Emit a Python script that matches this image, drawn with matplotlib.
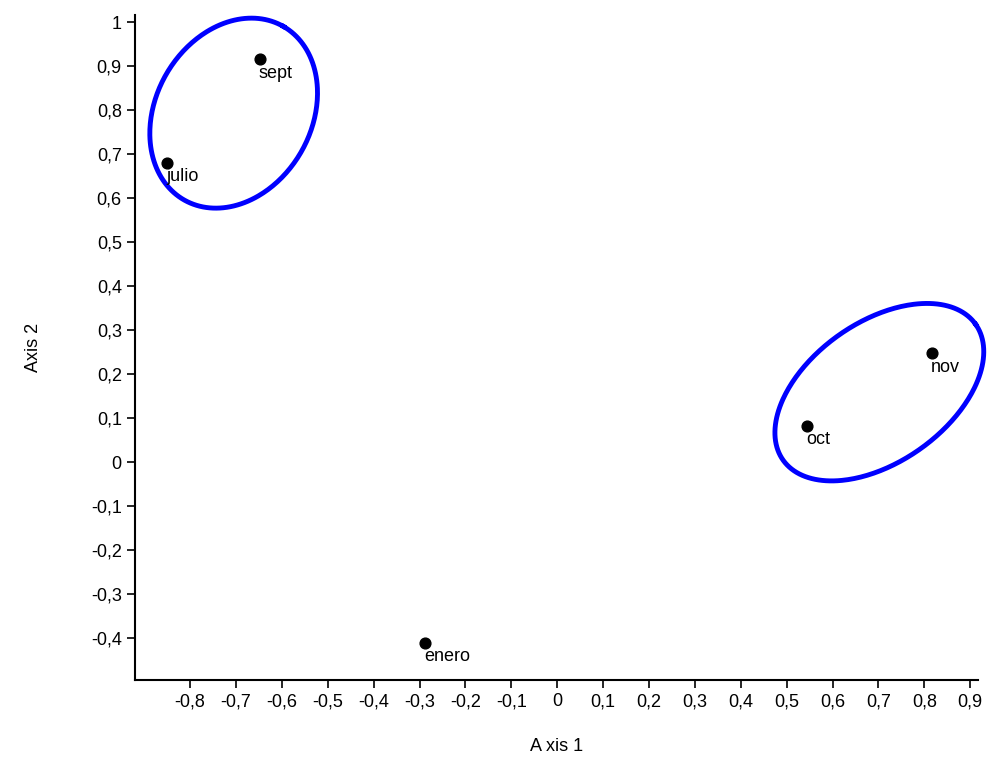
import matplotlib
matplotlib.use("Agg")
import matplotlib.pyplot as plt
import numpy as np

plt.rcParams['font.family'] = ['Liberation Sans', 'DejaVu Sans']

names = ["sept", "julio", "enero", "oct", "nov"]
xs = [-0.648, -0.85, -0.287, 0.544, 0.817]
ys = [0.915, 0.68, -0.41, 0.083, 0.247]

fig = plt.figure(figsize=(9.97, 7.61), dpi=100)
ax = fig.add_axes([135/997, 1-680/761, (978-135)/997, (680-15)/761])
ax.set_xlim(-0.92, 0.917)
ax.set_ylim(-0.495, 1.016)
ax.scatter(xs, ys, s=60, color="black", zorder=3)
for n, x, y in zip(names, xs, ys):
    ax.text(x - 0.002, y - 0.012, n, fontsize=13, va="top", ha="left")

sx, sy = 0.1/46, 0.1/44
for cx, cy, a, b, ang in [(-0.705, 0.793, 100, 78, 60), (0.702, 0.159, 118, 70, 35)]:
    t = np.linspace(0, 2*np.pi, 300)
    r = np.radians(ang)
    px = a*np.cos(t)*np.cos(r) - b*np.sin(t)*np.sin(r)
    py = a*np.cos(t)*np.sin(r) + b*np.sin(t)*np.cos(r)
    ax.plot(cx + px*sx, cy + py*sy, color="#0000ff", lw=3.5, clip_on=False)

xt = np.round(np.arange(-0.8, 0.91, 0.1), 1)
yt = np.round(np.arange(-0.4, 1.01, 0.1), 1)
fmt = lambda v: ("%g" % v).replace(".", ",") if abs(v) > 1e-9 else "0"
ax.set_xticks(xt)
ax.set_xticklabels([fmt(v) for v in xt], fontsize=13)
ax.set_yticks(yt)
ax.set_yticklabels([fmt(v) for v in yt], fontsize=13)
ax.tick_params(direction="out", length=6, width=1.2)
for s in ["top", "right"]:
    ax.spines[s].set_visible(False)
for s in ["left", "bottom"]:
    ax.spines[s].set_linewidth(1.5)
ax.set_xlabel("A xis 1", fontsize=13, labelpad=20)
ax.set_ylabel("Axis 2", fontsize=13, labelpad=35)
fig.savefig("out.png", dpi=100)
